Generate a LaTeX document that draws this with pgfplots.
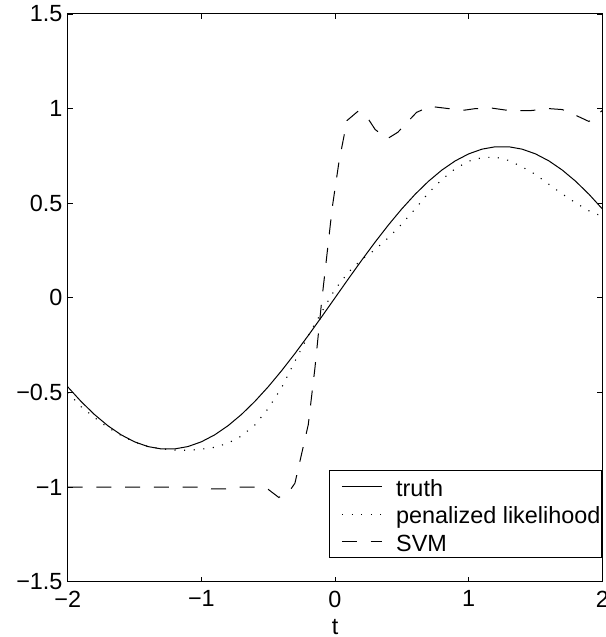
\documentclass[border=0pt]{standalone}
\usepackage{fontspec}
\setmainfont{Liberation Sans}
\usepackage{pgfplots}
\pgfplotsset{compat=1.18}
\usepackage{pgfplotstable}
\newcommand{\fs}{\fontsize{23.4bp}{28bp}\selectfont}

\pgfplotstableread{
t y
-2.0 -0.4702
-1.9 -0.5476
-1.8 -0.6164
-1.7 -0.6755
-1.6 -0.7239
-1.5 -0.7608
-1.4 -0.7858
-1.3 -0.7984
-1.2 -0.7984
-1.1 -0.7858
-1.0 -0.7608
-0.9 -0.7239
-0.8 -0.6755
-0.7 -0.6164
-0.6 -0.5476
-0.5 -0.4702
-0.4 -0.3854
-0.3 -0.2945
-0.2 -0.1990
-0.1 -0.1003
0.0 0.0
0.1 0.1003
0.2 0.1990
0.3 0.2945
0.4 0.3854
0.5 0.4702
0.6 0.5476
0.7 0.6164
0.8 0.6755
0.9 0.7239
1.0 0.7608
1.1 0.7858
1.2 0.7984
1.3 0.7984
1.4 0.7858
1.5 0.7608
1.6 0.7239
1.7 0.6755
1.8 0.6164
1.9 0.5476
2.0 0.4702
}\truth

\pgfplotstableread{
t y
-2.0 -0.500
-1.9 -0.575
-1.8 -0.632
-1.7 -0.685
-1.6 -0.727
-1.5 -0.762
-1.4 -0.785
-1.3 -0.798
-1.2 -0.804
-1.1 -0.806
-1.0 -0.800
-0.9 -0.790
-0.8 -0.768
-0.7 -0.730
-0.6 -0.672
-0.5 -0.585
-0.4 -0.475
-0.3 -0.335
-0.2 -0.200
-0.1 -0.075
0.0 0.045
0.1 0.135
0.2 0.203
0.3 0.255
0.4 0.318
0.5 0.390
0.6 0.470
0.7 0.555
0.8 0.625
0.9 0.683
1.0 0.722
1.1 0.741
1.2 0.744
1.3 0.726
1.4 0.692
1.5 0.652
1.6 0.600
1.7 0.549
1.8 0.502
1.9 0.460
2.0 0.430
}\penal

\pgfplotstableread{
t y
-2.00 -1.000
-1.00 -1.000
-0.92 -1.010
-0.82 -1.010
-0.72 -1.000
-0.56 -1.000
-0.50 -1.012
-0.42 -1.055
-0.33 -1.010
-0.30 -0.980
-0.20 -0.670
-0.15 -0.370
-0.10 -0.020
-0.06 0.230
-0.02 0.480
0.03 0.720
0.09 0.937
0.17 0.985
0.24 0.955
0.30 0.890
0.39 0.840
0.47 0.875
0.61 0.980
0.71 1.012
0.85 1.000
0.97 0.992
1.05 1.000
1.17 1.003
1.30 0.990
1.47 0.990
1.60 1.000
1.70 0.995
1.77 0.975
1.90 0.932
2.00 0.990
}\svm

\begin{document}
\begin{tikzpicture}
\useasboundingbox (-67.7bp,-55.3bp) rectangle (538.3bp,581.7bp);
\begin{axis}[
  scale only axis,
  width=534.6bp, height=567.7bp,
  xmin=-2, xmax=2, ymin=-1.5, ymax=1.5,
  xtick={-2,-1,0,1,2},
  xticklabels={−2,−1,0,1,2},
  ytick={-1.5,-1,-0.5,0,0.5,1,1.5},
  yticklabels={−1.5,−1,−0.5,0,0.5,1,1.5},
  tick align=inside,
  major tick length=5bp,
  axis line style={line width=1bp},
  every tick/.style={black, line width=0.8bp},
  tick label style={font=\fs},
  xticklabel style={yshift=-5.6bp},
  yticklabel style={xshift=-1.7bp},
  xlabel={t},
  xlabel style={font=\fs, at={(axis description cs:0.5,0)}, anchor=center, yshift=-45.8bp},
  legend cell align=left,
  legend image code/.code={\draw[#1] (0bp,0bp) -- (40bp,0bp);},
  legend style={
    at={(axis cs:2,-1.5)}, anchor=south east, xshift=-0.6bp, yshift=23.4bp,
    draw=black, line width=1bp, font=\fs,
    inner xsep=12.3bp, inner ysep=2.25bp,
    nodes={inner sep=0pt, text height=23.15bp, text depth=4.35bp},
    /tikz/every odd column/.append style={column sep=13.7bp},
  },
]
\addplot[black, line width=1bp] table[x=t,y=y] {\truth};
\addlegendentry{\makebox[192.7bp][l]{truth}}
\addplot[black, line width=1.1bp, dash pattern=on 1.1bp off 8.5bp] table[x=t,y=y] {\penal};
\addlegendentry{\makebox[192.7bp][l]{penalized likelihood}}
\addplot[black, line width=1bp, dash pattern=on 15bp off 13.7bp] table[x=t,y=y] {\svm};
\addlegendentry{\makebox[192.7bp][l]{SVM}}
\end{axis}
\end{tikzpicture}
\end{document}
